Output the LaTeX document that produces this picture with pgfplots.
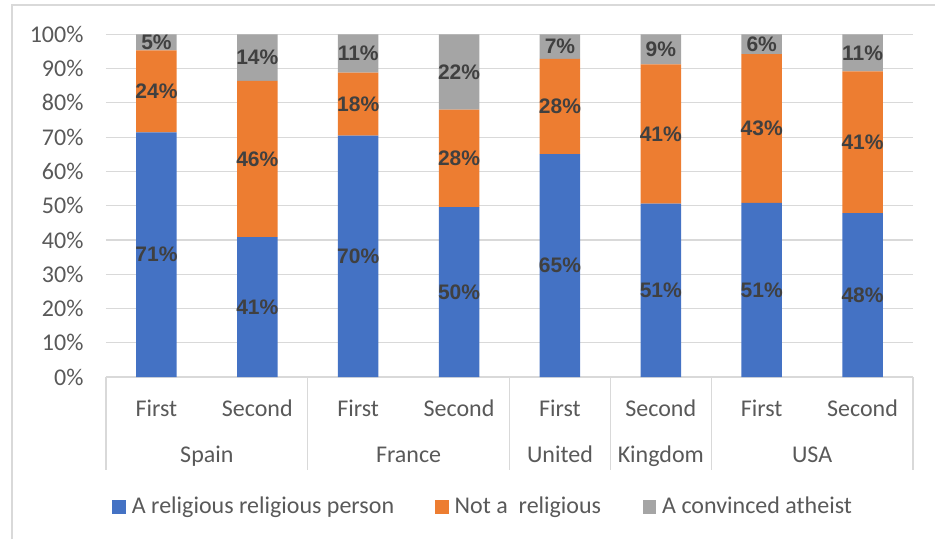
\documentclass[border=0pt]{standalone}
\usepackage{pgfplots}
\pgfplotsset{compat=1.18}
\usepackage{pgfplotstable}
\usepackage{fontspec}
\setmainfont{Carlito}
\newfontfamily\labelfont{Liberation Sans}

\definecolor{cBlue}{HTML}{4472C4}
\definecolor{cOrange}{HTML}{ED7D31}
\definecolor{cGray}{HTML}{A5A5A5}
\definecolor{gridc}{HTML}{D9D9D9}
\definecolor{tickc}{HTML}{595959}
\definecolor{valc}{HTML}{404040}

% shares (%) per country and survey wave
\pgfplotstableread{
x  rel   notrel athe
0  71.4  23.9   4.7
1  40.8  45.6   13.6
2  70.4  18.4   11.2
3  49.6  28.4   22.0
4  65.0  27.8   7.2
5  50.6  40.6   8.8
6  50.8  43.4   5.8
7  47.8  41.4   10.8
}\shares

\newcommand{\catfont}{\fontsize{24}{28}\selectfont}

\pgfplotsset{
  base/.style={
    at={(106pt,162pt)}, anchor=south west, scale only axis,
    width=807pt, height=342.7pt,
    xmin=-0.5, xmax=7.5, ymin=0, ymax=100,
    clip=false,
    /pgf/number format/assume math mode=true,
  },
  vlab/.style={
    only marks, mark=none, point meta=explicit,
    nodes near coords={\pgfmathprintnumber[fixed,precision=0,assume math mode=true]{\pgfplotspointmeta}\%},
    every node near coord/.style={anchor=center, inner sep=0pt,
      font=\labelfont\bfseries\fontsize{21}{24}\selectfont, text=valc},
  },
}
\tikzset{
  sep/.style={gridc, line width=1.2pt},
  wave/.style={anchor=base, inner sep=0pt, font=\catfont, text=tickc, yshift=-39pt},
  country/.style={anchor=base, inner sep=0pt, font=\catfont, text=tickc, yshift=-85.7pt},
  leg/.style={anchor=base west, inner sep=0pt, font=\catfont, text=tickc},
}

\begin{document}
\begin{tikzpicture}
\useasboundingbox (0pt,0pt) rectangle (935pt,539pt);
\draw[gridc, line width=1.5pt] (12pt,0pt) -- (12pt,534pt) -- (935pt,534pt);

\begin{axis}[base, ybar stacked, bar width=40.4pt,
  axis line style={draw=none}, tick style={draw=none},
  ytick={0,10,...,100}, ymajorgrids,
  grid style={gridc, line width=1.2pt},
  yticklabel={\pgfmathprintnumber{\tick}\%},
  yticklabel style={font=\catfont, text=tickc, anchor=east, xshift=-19pt},
  xtick=\empty]
\addplot[fill=cBlue, draw=none] table[x=x, y=rel]{\shares};
\addplot[fill=cOrange, draw=none] table[x=x, y=notrel]{\shares};
\addplot[fill=cGray, draw=none] table[x=x, y=athe]{\shares};

% category separators below the baseline
\draw[sep] (axis cs:-0.5,0) -- ++(0pt,-93pt);
\draw[sep] (axis cs:1.5,0) -- ++(0pt,-93pt);
\draw[sep] (axis cs:3.5,0) -- ++(0pt,-93pt);
\draw[sep] (axis cs:4.5,0) -- ++(0pt,-93pt);
\draw[sep] (axis cs:5.5,0) -- ++(0pt,-93pt);
\draw[sep] (axis cs:7.5,0) -- ++(0pt,-93pt);

% wave labels
\node[wave] at (axis cs:0,0) {First};
\node[wave] at (axis cs:1,0) {Second};
\node[wave] at (axis cs:2,0) {First};
\node[wave] at (axis cs:3,0) {Second};
\node[wave] at (axis cs:4,0) {First};
\node[wave] at (axis cs:5,0) {Second};
\node[wave] at (axis cs:6,0) {First};
\node[wave] at (axis cs:7,0) {Second};

% country labels
\node[country] at (axis cs:0.5,0) {Spain};
\node[country] at (axis cs:2.5,0) {France};
\node[country] at (axis cs:4,0) {United};
\node[country] at (axis cs:5,0) {Kingdom};
\node[country] at (axis cs:6.5,0) {USA};
\end{axis}

% value labels, centred in each segment
\begin{axis}[base, hide axis]
\addplot[vlab] table[x=x, y expr=\thisrow{rel}/2, meta=rel]{\shares};
\addplot[vlab] table[x=x, y expr=\thisrow{rel}+\thisrow{notrel}/2, meta=notrel]{\shares};
\addplot[vlab] table[x=x, y expr=\thisrow{rel}+\thisrow{notrel}+\thisrow{athe}/2, meta=athe]{\shares};
\end{axis}

% legend
\fill[cBlue] (112pt,25pt) rectangle (126pt,39pt);
\node[leg] at (131.7pt,26pt) {A religious religious person};
\fill[cOrange] (435pt,25pt) rectangle (449pt,39pt);
\node[leg] at (454.5pt,26pt) {Not a\ \ religious};
\fill[cGray] (643pt,25pt) rectangle (656pt,39pt);
\node[leg] at (662pt,26pt) {A convinced atheist};
\end{tikzpicture}
\end{document}
